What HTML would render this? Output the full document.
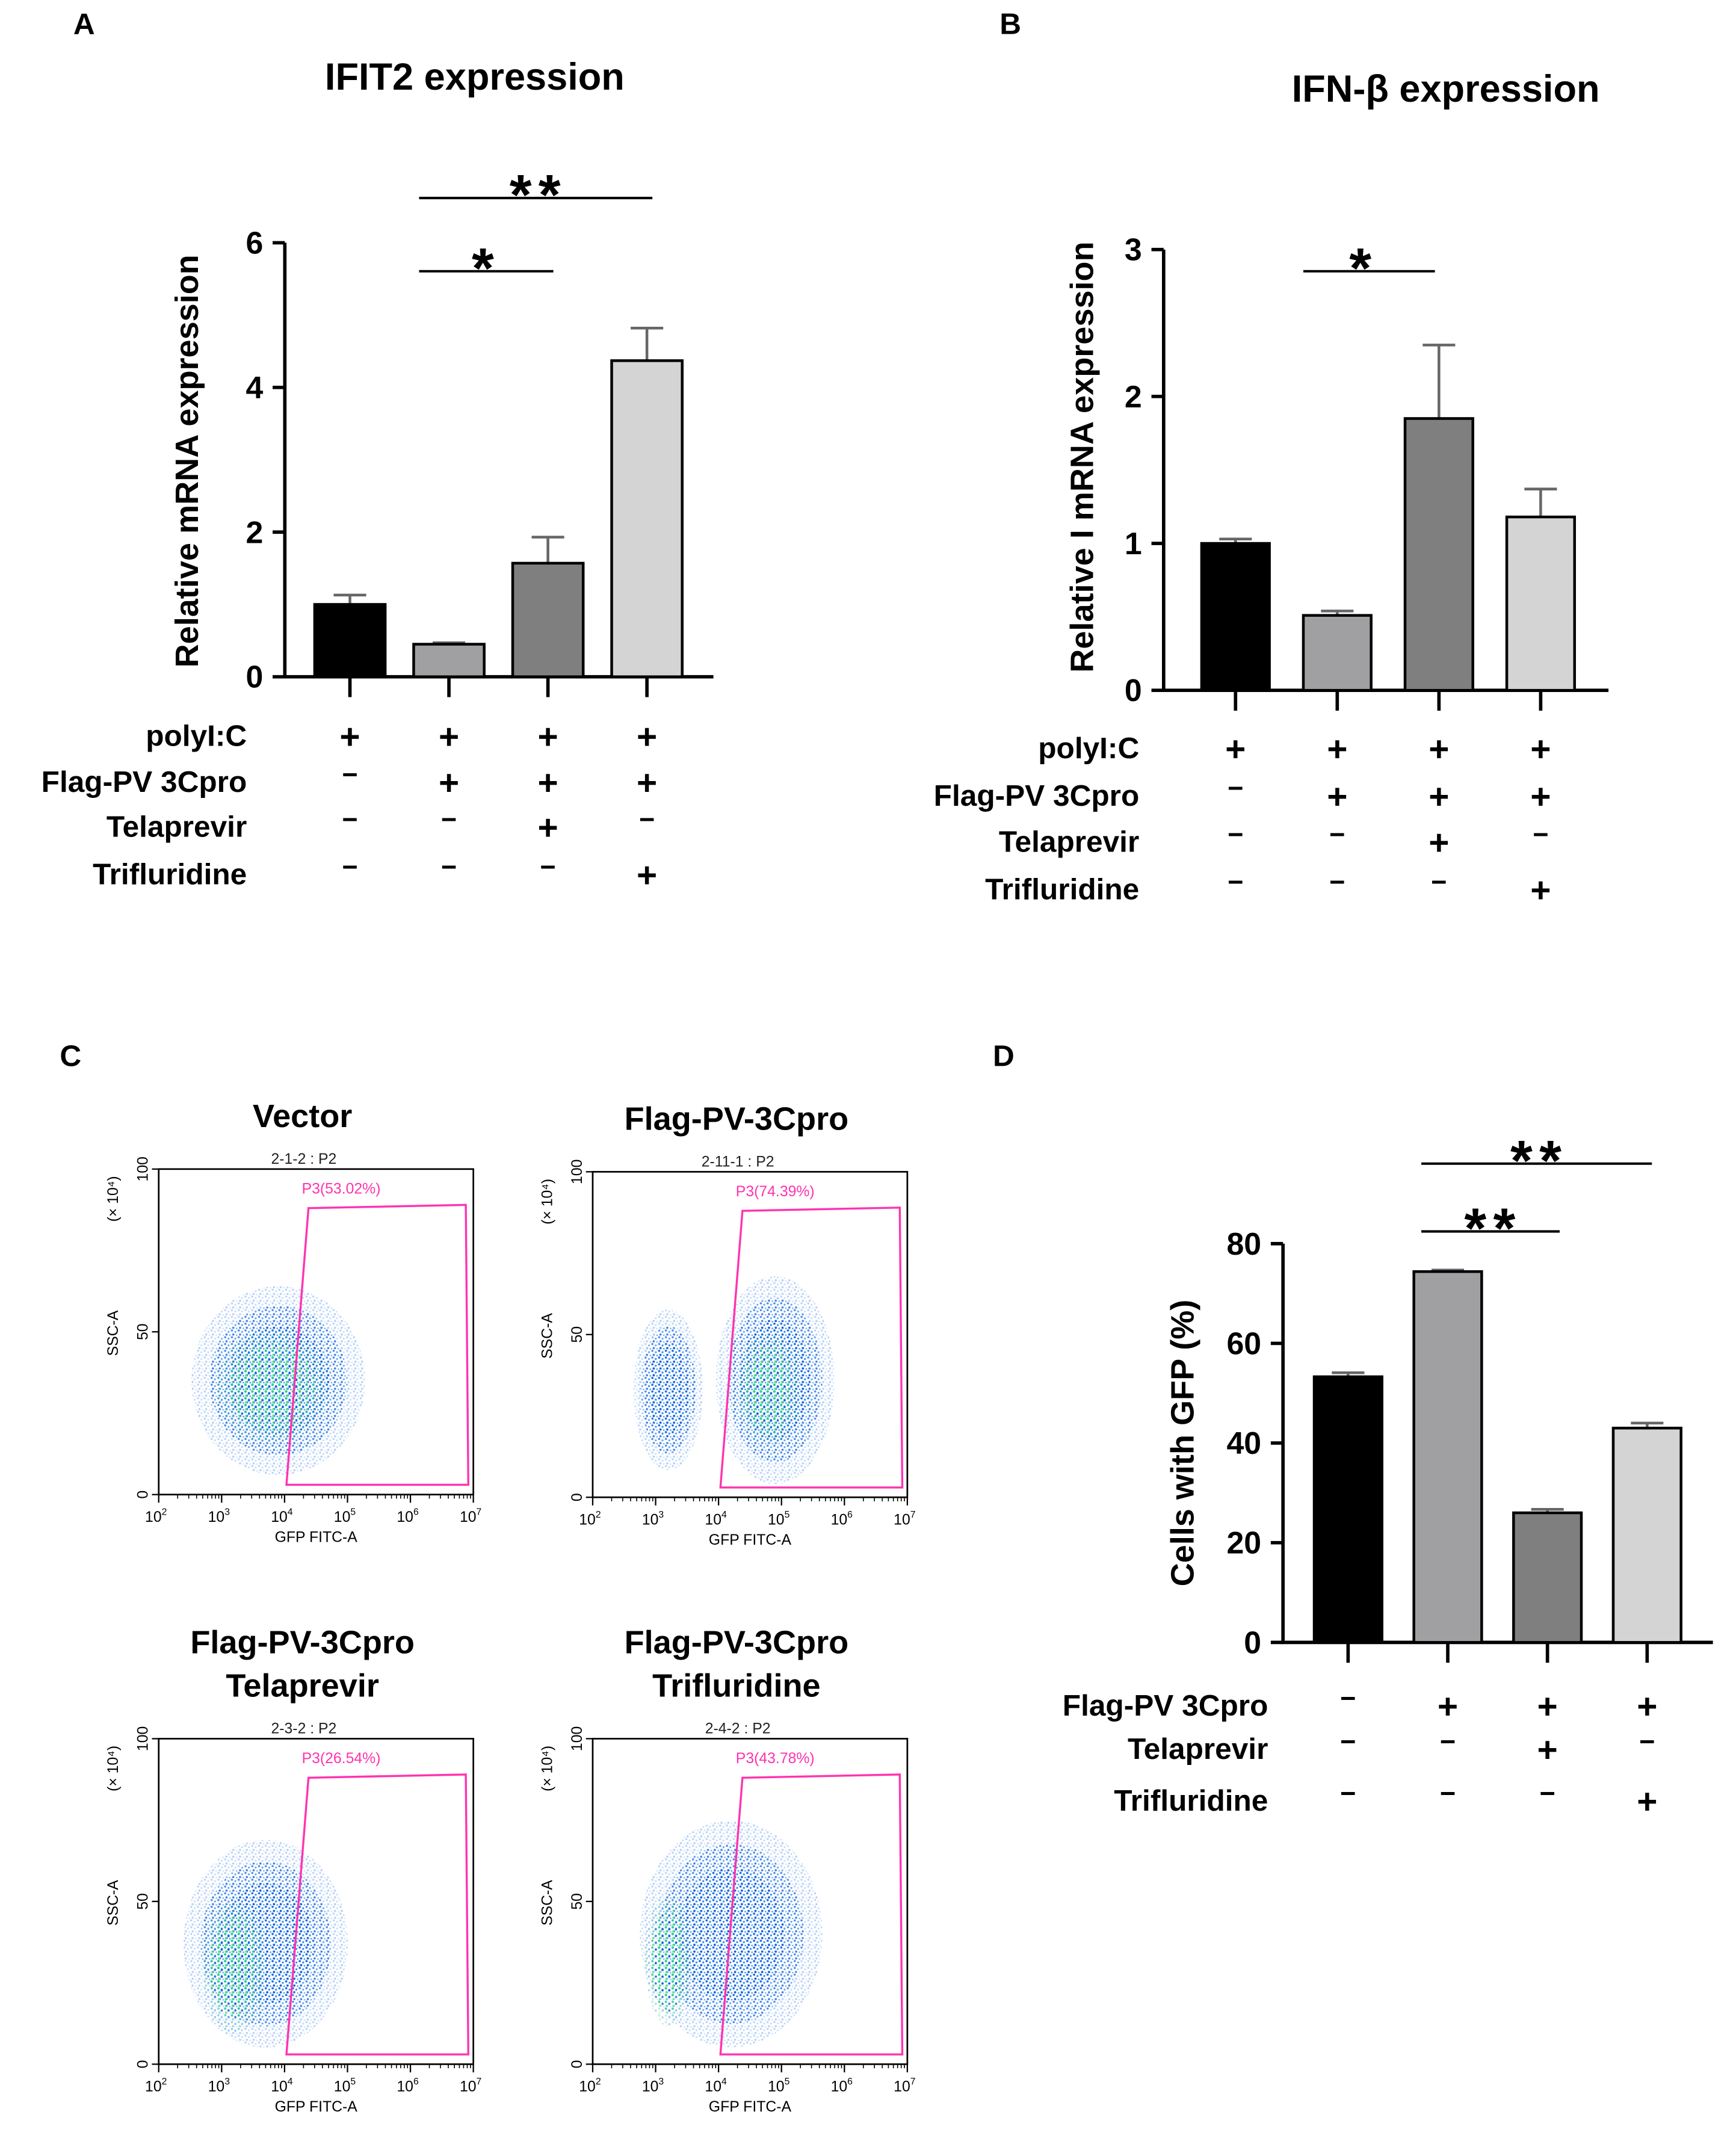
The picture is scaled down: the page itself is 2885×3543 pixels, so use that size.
<!DOCTYPE html>
<html><head><meta charset="utf-8">
<style>
html,body{margin:0;padding:0;background:#fff;}
svg{display:block;}
text{font-family:"Liberation Sans",Arial,sans-serif;}
.b{font-weight:bold;}
</style></head>
<body>
<svg id="fig" xmlns="http://www.w3.org/2000/svg" width="2885" height="3543" viewBox="0 0 1280 1572">
<defs>
<pattern id="dots" width="5" height="5" patternUnits="userSpaceOnUse">
<circle cx="1" cy="1" r="0.8" fill="#1f6fe8"/><circle cx="3.5" cy="2" r="0.7" fill="#3a8ff0"/>
<circle cx="2" cy="4" r="0.8" fill="#1a5fd8"/><circle cx="4.5" cy="4.5" r="0.6" fill="#4aa0f5"/>
</pattern>
<pattern id="dotsg" width="5" height="5" patternUnits="userSpaceOnUse">
<circle cx="1" cy="1" r="0.9" fill="#2ad0a0"/><circle cx="3.5" cy="2.5" r="0.8" fill="#1a60e0"/>
<circle cx="1.5" cy="4" r="0.8" fill="#60e080"/>
</pattern>
</defs>
<g id="root"></g>
</svg>
<script>
// ---------- Panel A data ----------
const aCategories = ["G1","G2","G3","G4"];
const aValues = [1.0, 0.45, 1.57, 4.37];
const aErrors = [0.13, 0.02, 0.36, 0.45];
const aTicks = [0, 2, 4, 6];
// ---------- Panel B data ----------
const bValues = [1.0, 0.51, 1.85, 1.18];
const bErrors = [0.03, 0.03, 0.50, 0.19];
const bTicks = [0, 1, 2, 3];
// ---------- Panel D data ----------
const dValues = [53.3, 74.4, 26.0, 43.0];
const dErrors = [0.8, 0.3, 0.7, 1.0];
const dTicks = [0, 20, 40, 60, 80];
const barColors = ["#000000","#a0a0a2","#7f7f7f","#d4d4d4"];
const rowsAB = ["polyI:C","Flag-PV 3Cpro","Telaprevir","Trifluridine"];
const signsAB = [["+","+","+","+"],["−","+","+","+"],["−","−","+","−"],["−","−","−","+"]];
const rowsD = ["Flag-PV 3Cpro","Telaprevir","Trifluridine"];
const signsD = [["−","+","+","+"],["−","−","+","−"],["−","−","−","+"]];
// ---------- Flow data (cluster descriptions: log10 GFP, SSC, spread) ----------
const flowTitles = [["Vector"],["Flag-PV-3Cpro"],["Flag-PV-3Cpro","Telaprevir"],["Flag-PV-3Cpro","Trifluridine"]];
const flowIds = ["2-1-2 : P2","2-11-1 : P2","2-3-2 : P2","2-4-2 : P2"];
const flowPct = ["P3(53.02%)","P3(74.39%)","P3(26.54%)","P3(43.78%)"];
const flowClusters = [
  [[3.9,35,0.95,20,"b"],[3.8,33,0.6,12,"g"]],
  [[3.2,33,0.38,17,"b"],[4.9,36,0.65,22,"b"],[4.8,33,0.35,12,"g"]],
  [[3.7,37,0.9,22,"b"],[3.2,30,0.35,14,"g"]],
  [[4.2,40,1.0,24,"b"],[3.2,32,0.25,14,"g"]]
];
const flowXTicks = [2,3,4,5,6,7];

const NS="http://www.w3.org/2000/svg";
const root=document.getElementById('root');
function el(tag,attrs,parent,txt){const e=document.createElementNS(NS,tag);for(const k in attrs)e.setAttribute(k,attrs[k]);if(txt!==undefined)e.textContent=txt;(parent||root).appendChild(e);return e;}

function barPanel(cfg){
  const g=el('g',{});
  
  
  const ymax=cfg.ticks[cfg.ticks.length-1];
  const ys=v=>cfg.y0-(v/ymax)*(cfg.y0-cfg.y1);
  const xs=i=>cfg.xc0+i*cfg.step;
  const ax=el('path',{d:`M${cfg.ax} ${cfg.y1} V${cfg.y0} H${cfg.axEnd}`,stroke:'#000','stroke-width':2.5,fill:'none'},g);
  
  
  cfg.ticks.forEach(t=>{
    el('line',{x1:cfg.ax-9,x2:cfg.ax,y1:ys(t),y2:ys(t),stroke:'#000','stroke-width':2.5},g);
    const tl=el('text',{x:cfg.ax-16,y:ys(t)+8,'text-anchor':'end','font-size':23,class:'b'},g,String(t));
    
    
  });
  cfg.values.forEach((v,i)=>{
    const x=xs(i), w=cfg.bw;
    const top=ys(v+cfg.errors[i]);
    el('line',{x1:x,x2:x,y1:ys(v),y2:top,stroke:'#666','stroke-width':2},g);
    el('line',{x1:x-12,x2:x+12,y1:top,y2:top,stroke:'#666','stroke-width':2},g);
    const r=el('rect',{x:x-w/2,y:ys(v),width:w,height:cfg.y0-ys(v),fill:barColors[i],stroke:'#000','stroke-width':2},g);
    
    
    el('line',{x1:x,x2:x,y1:cfg.y0,y2:cfg.y0+15,stroke:'#000','stroke-width':2.5},g);
  });
  cfg.rows.forEach((lab,r)=>{
    const yy=cfg.rowY[r];
    const t=el('text',{x:cfg.labX,y:yy+8,'text-anchor':'end','font-size':22,class:'b'},g,lab);
    
    
    cfg.signs[r].forEach((s,i)=>{
      const st=el('text',{x:xs(i),y:s==='+'?yy+10:yy+2,'text-anchor':'middle','font-size':s==='+'?26:20,class:'b'},g,s);
      
      
    });
  });
  const yl=el('text',{transform:`translate(${cfg.ylX},${cfg.ylY}) rotate(-90)`,'text-anchor':'middle','font-size':24,class:'b'},g,cfg.ylabel);
  
  
  cfg.sig.forEach(s=>{
    el('line',{x1:s[0],x2:s[1],y1:s[2],y2:s[2],stroke:'#000','stroke-width':1.8},g);
    const st=el('text',{x:(s[0]+s[1])/2+s[4],y:s[2]+12,'text-anchor':'middle','font-size':42,class:'b','letter-spacing':5},g,s[3]);
    
    
  });
}

barPanel({name:'panel-a-chart',values:aValues,errors:aErrors,ticks:aTicks,ax:210,axEnd:526,y0:499,y1:179,xc0:258,step:73,bw:52,
  rows:rowsAB,signs:signsAB,rowY:[542,576,609,644],labX:182,ylX:146,ylY:340,ylabel:'Relative mRNA expression',
  sig:[[309,408,200,'*',0],[309,481,146,'**',2]]});
barPanel({name:'panel-b-chart',values:bValues,errors:bErrors,ticks:bTicks,ax:858,axEnd:1186,y0:509,y1:184,xc0:911,step:75,bw:50,
  rows:rowsAB,signs:signsAB,rowY:[551,586,620,655],labX:840,ylX:806,ylY:337,ylabel:'Relative I mRNA expression',
  sig:[[961,1058,200,'*',-4]]});
barPanel({name:'panel-d-chart',values:dValues,errors:dErrors,ticks:dTicks,ax:946,axEnd:1263,y0:1211,y1:917,xc0:994,step:73.5,bw:50,
  rows:rowsD,signs:signsD,rowY:[1257,1289,1327],labX:935,ylX:880,ylY:1064,ylabel:'Cells with GFP (%)',
  sig:[[1048,1150,908,'**',2],[1048,1218,858,'**',2]]});

// titles & panel letters
[[62,25,'A',22],[745,25,'B',22],[52,786,'C',22],[740,786,'D',22]].forEach(p=>{
  const t=el('text',{x:p[0],y:p[1],'text-anchor':'middle','font-size':p[3],class:'b'},root,p[2]);
  
  
});
[[350,66,'IFIT2 expression'],[1066,75,'IFN-β expression']].forEach(p=>{
  const t=el('text',{x:p[0],y:p[1],'text-anchor':'middle','font-size':28,class:'b'},root,p[2]);
  
  
});

// flow plots
const flowBoxes=[[117,862],[437,864],[117,1282],[437,1282]];
flowBoxes.forEach((b,k)=>{
  const g=el('g',{});
  
  
  const x0=b[0],yT=b[1],W=232,H=240,yB=yT+H;
  const xs=l=>x0+(l-2)/5*W, ys=v=>yB-v/100*H;
  const tl=flowTitles[k];
  tl.forEach((s,j)=>{
    const t=el('text',{x:x0+106,y:yT-(tl.length===1?31:63)+j*32,'text-anchor':'middle','font-size':24,class:'b'},g,s);
    
    
  });
  el('text',{x:x0+107,y:yT-4,'text-anchor':'middle','font-size':11,fill:'#222'},g,flowIds[k]);
  flowClusters[k].forEach(c=>{
    const cx=xs(c[0]),cy=ys(c[1]),rx=c[2]/5*W,ry=c[3]/100*H;
    const fill=c[4]==='g'?'url(#dotsg)':'url(#dots)';
    [[1.45,0.3],[1.15,0.7],[0.85,1]].forEach(s=>{
      const e=el('ellipse',{cx,cy,rx:rx*s[0],ry:ry*s[0],fill,opacity:s[1]},g);
      
      
    });
  });
  el('rect',{x:x0,y:yT,width:W,height:H,fill:'none',stroke:'#000','stroke-width':1.2},g);
  const gate=el('polygon',{points:`${xs(4.38)},${ys(88)} ${xs(6.88)},${ys(89)} ${xs(6.92)},${ys(3)} ${xs(4.03)},${ys(3)}`,fill:'none',stroke:'#ff33b0','stroke-width':1.5},g);
  
  
  el('text',{x:xs(4.9),y:yT+18,'text-anchor':'middle','font-size':11,fill:'#ff33b0'},g,flowPct[k]);
  flowXTicks.forEach(l=>{
    el('line',{x1:xs(l),x2:xs(l),y1:yB,y2:yB+6,stroke:'#000'},g);
    if(l<7)for(let m=2;m<10;m++){const xm=xs(l+Math.log10(m));el('line',{x1:xm,x2:xm,y1:yB,y2:yB+3,stroke:'#000','stroke-width':0.7},g);}
    const t=el('text',{x:xs(l)-2,y:yB+20,'text-anchor':'middle','font-size':11},g,'10');
    el('tspan',{dy:-5,'font-size':7},t,String(l));
  });
  [0,50,100].forEach(v=>{
    el('line',{x1:x0-5,x2:x0,y1:ys(v),y2:ys(v),stroke:'#000'},g);
    el('text',{transform:`translate(${x0-8},${ys(v)}) rotate(-90)`,'text-anchor':'middle','font-size':11},g,String(v));
  });
  el('text',{transform:`translate(${x0-30},${yT+121}) rotate(-90)`,'text-anchor':'middle','font-size':11},g,'SSC-A');
  el('text',{transform:`translate(${x0-30},${yT+22}) rotate(-90)`,'text-anchor':'middle','font-size':11},g,'(× 10⁴)');
  el('text',{x:x0+116,y:yB+35,'text-anchor':'middle','font-size':11},g,'GFP FITC-A');
});
</script>
</body></html>
